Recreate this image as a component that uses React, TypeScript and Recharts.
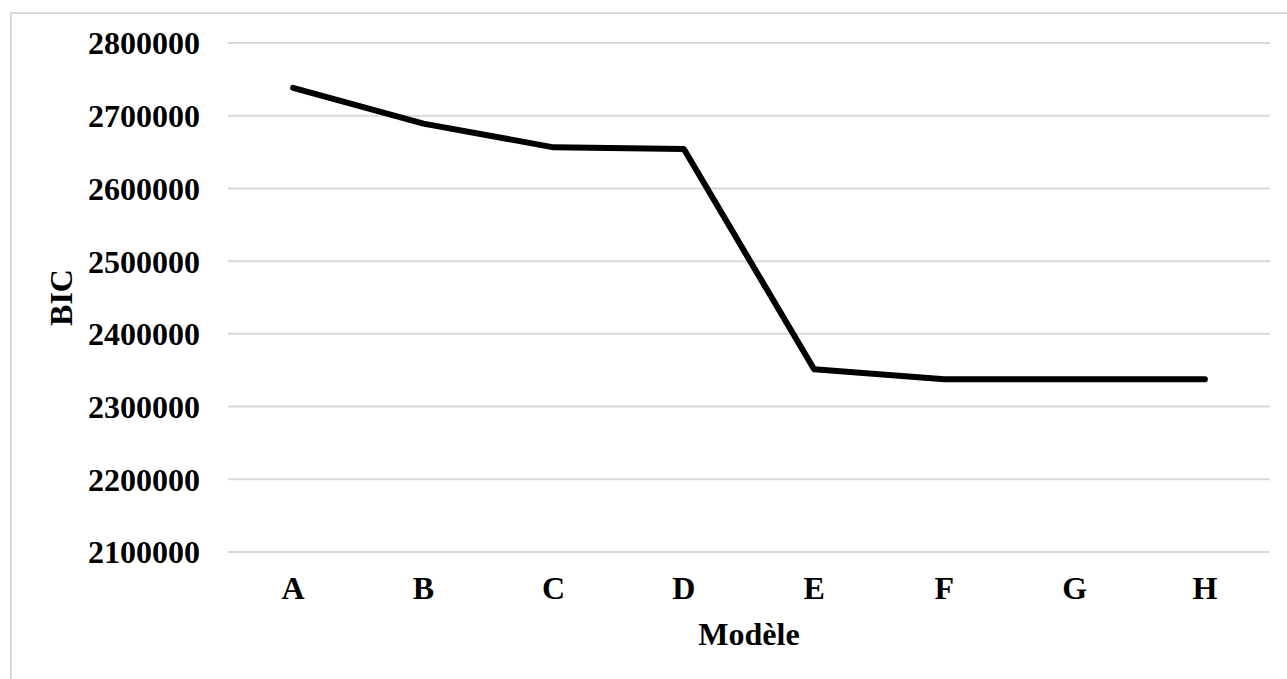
import React from 'react';
import { ComposedChart, Line, XAxis, YAxis, CartesianGrid } from 'recharts';

const categories = ['A', 'B', 'C', 'D', 'E', 'F', 'G', 'H'];
const bicValues = [2738300, 2689100, 2656500, 2654200, 2351200, 2337500, 2337500, 2337500];
const yTicks = [2100000, 2200000, 2300000, 2400000, 2500000, 2600000, 2700000, 2800000];

const data = categories.map((c, i) => ({ name: c, bic: bicValues[i] }));

const FONT = '"Liberation Serif", "Times New Roman", serif';

const YLabel = (props: any) => {
  const vb = props.viewBox || { x: 0, y: 0, width: 0, height: 0 };
  const cx = vb.x + 61;
  const cy = vb.y + vb.height / 2;
  return (
    <text
      x={cx}
      y={cy}
      transform={`rotate(-90 ${cx} ${cy})`}
      textAnchor="middle"
      dominantBaseline="central"
      fontFamily={FONT}
      fontWeight="bold"
      fontSize={32}
      fill="#000"
    >
      BIC
    </text>
  );
};

export default function App() {
  return (
    <div
      style={{
        position: 'fixed',
        left: 0,
        top: 0,
        width: 1287,
        height: 679,
        overflow: 'hidden',
        background: '#fff',
      }}
    >
      <div
        style={{
          position: 'absolute',
          left: 10,
          top: 12,
          width: 1300,
          height: 700,
          borderTop: '2px solid #d9d9d9',
          borderLeft: '2px solid #d9d9d9',
        }}
      />
      <div style={{ position: 'absolute', left: 0, top: 0 }}>
        <ComposedChart
          width={1287}
          height={679}
          data={data}
          margin={{ top: 43, right: 17, left: 0, bottom: 27 }}
        >
          <CartesianGrid vertical={false} stroke="#d9d9d9" strokeWidth={2} />
          <XAxis
            dataKey="name"
            scale="band"
            axisLine={false}
            tickLine={false}
            tickSize={0}
            tickMargin={24}
            height={100}
            interval={0}
            tick={{ fontFamily: FONT, fontWeight: 'bold', fontSize: 32, fill: '#000' }}
            label={{
              value: 'Modèle',
              position: 'insideBottom',
              offset: 7,
              style: { fontFamily: FONT, fontWeight: 'bold', fontSize: 32, fill: '#000' },
            }}
          />
          <YAxis
            domain={[2100000, 2800000]}
            ticks={yTicks}
            width={228}
            axisLine={false}
            tickLine={false}
            tickSize={0}
            tickMargin={28}
            interval={0}
            allowDataOverflow
            tick={{ fontFamily: FONT, fontWeight: 'bold', fontSize: 32, fill: '#000' }}
            label={<YLabel />}
          />
          <Line
            type="linear"
            dataKey="bic"
            stroke="#000"
            strokeWidth={6}
            strokeLinecap="round"
            strokeLinejoin="round"
            dot={false}
            activeDot={false}
            isAnimationActive={false}
          />
        </ComposedChart>
      </div>
    </div>
  );
}
